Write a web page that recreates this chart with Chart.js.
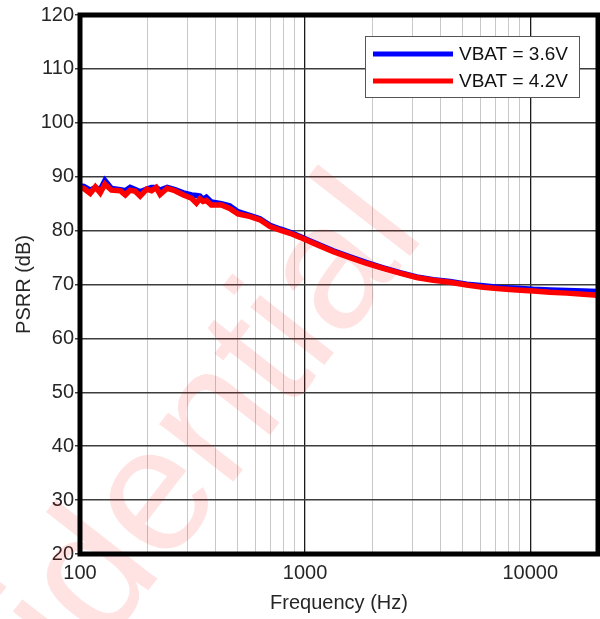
<!DOCTYPE html>
<html>
<head>
<meta charset="utf-8">
<script src="https://cdn.jsdelivr.net/npm/chart.js@4.4.1/dist/chart.umd.min.js"></script>
<style>
html,body{margin:0;padding:0;background:#fff;}
canvas{display:block;}
</style>
</head>
<body>
<canvas id="c" width="600" height="619"></canvas>
<script>
// ---- data ----
const freqs = [100,104,111,117,123,129,138,151,159,167,176,185,198,208,218,227,244,264,288,313,329,341,352,364,383,425,462,503,571,630,698,774,857,950,1029,1127,1334,1582,1877,2224,2638,3130,3711,4401,5221,6186,7337,8706,10316,12246,14520,17208,20000];
const psrrVbat36 = [88.3,88.2,87.5,88.0,87.6,89.3,87.8,87.6,87.4,88.0,87.6,87.2,87.7,88.0,88.0,87.5,88.0,87.6,87.0,86.6,86.5,86.4,85.8,86.2,85.3,85.0,84.6,83.5,82.8,82.2,81.0,80.3,79.7,78.9,78.25,77.55,76.25,75.15,74.05,73.1,72.2,71.4,70.9,70.55,70.05,69.75,69.45,69.3,69.1,69.0,68.9,68.8,68.7];
const psrrVbat42 = [88.0,87.8,86.9,88.1,87.0,88.6,87.5,87.4,86.6,87.5,87.3,86.4,87.7,87.4,88.0,86.7,87.85,87.4,86.6,86.0,85.1,85.9,85.4,85.6,84.75,84.75,84.1,83.1,82.6,82.0,80.75,80.1,79.5,78.75,78.1,77.4,76.1,75.0,73.9,73.0,72.1,71.3,70.8,70.4,69.9,69.5,69.2,69.0,68.8,68.55,68.4,68.2,68.0];
const seriesLabels = ['VBAT = 3.6V', 'VBAT = 4.2V'];
const seriesColors = ['#0000ff', '#ff0000'];
const xLabelValues = [100, 1000, 10000];
const xGridValues = [100,200,300,400,500,600,700,800,900,1000,2000,3000,4000,5000,6000,7000,8000,9000,10000,20000];
const yMin = 20, yMax = 120, yStep = 10;
const xTitle = 'Frequency (Hz)';
const yTitle = 'PSRR (dB)';
const watermarkText = 'Confidential';

const FONT = "'Liberation Sans', Arial, sans-serif";
const TEXT = '#262626';

const watermark = {
  id: 'watermark',
  beforeDatasetsDraw(chart) {
    const ctx = chart.ctx;
    ctx.save();
    ctx.translate(-152, 975);
    ctx.rotate(-52 * Math.PI / 180);
    ctx.font = '178px ' + FONT;
    ctx.fillStyle = 'rgba(255,0,0,0.11)';
    ctx.textBaseline = 'alphabetic';
    ctx.textAlign = 'left';
    ctx.fillText(watermarkText, 0, 0);
    ctx.restore();
  }
};

const frameAndLegend = {
  id: 'frameAndLegend',
  afterDatasetsDraw(chart) {
    const ctx = chart.ctx;
    const a = chart.chartArea;
    ctx.save();
    ctx.strokeStyle = '#000';
    ctx.lineWidth = 5;
    ctx.strokeRect(a.left, a.top, a.right - a.left, a.bottom - a.top);
    const bx = a.right - 233, by = a.top + 21, bw = 214, bh = 61;
    ctx.fillStyle = '#fff';
    ctx.fillRect(bx, by, bw, bh);
    ctx.strokeStyle = '#555';
    ctx.lineWidth = 1;
    ctx.strokeRect(bx + 0.5, by + 0.5, bw, bh);
    ctx.font = '19px ' + FONT;
    ctx.textBaseline = 'middle';
    ctx.textAlign = 'left';
    chart.data.datasets.forEach((ds, i) => {
      const yy = by + 18 + i * 27;
      ctx.strokeStyle = ds.borderColor;
      ctx.lineWidth = 5;
      ctx.beginPath();
      ctx.moveTo(bx + 8, yy);
      ctx.lineTo(bx + 88, yy);
      ctx.stroke();
      ctx.fillStyle = '#111';
      ctx.fillText(ds.label, bx + 94, yy + 1);
    });
    ctx.restore();
  }
};

const yTickVals = [];
for (let v = yMin; v <= yMax; v += yStep) yTickVals.push(v);

new Chart(document.getElementById('c'), {
  type: 'line',
  data: {
    datasets: [psrrVbat36, psrrVbat42].map((vals, i) => ({
      label: seriesLabels[i],
      data: freqs.map((f, j) => ({ x: f, y: vals[j] })),
      borderColor: seriesColors[i],
      backgroundColor: seriesColors[i],
      borderWidth: 5.5,
      pointRadius: 0,
      tension: 0,
      fill: false,
      order: 1 - i
    }))
  },
  options: {
    responsive: false,
    animation: false,
    devicePixelRatio: 1,
    layout: { padding: { top: 15, right: 2, left: 0, bottom: 0 } },
    plugins: { legend: { display: false }, tooltip: { enabled: false } },
    scales: {
      x: {
        type: 'logarithmic',
        min: 100,
        max: 20000,
        afterBuildTicks(scale) { scale.ticks = xGridValues.map(v => ({ value: v })); },
        afterFit(scale) { scale.height = 65; scale.paddingRight = 0; scale.paddingLeft = 0; },
        ticks: {
          autoSkip: false,
          maxRotation: 0,
          padding: 7,
          color: TEXT,
          font: { family: FONT, size: 20 },
          callback: (v) => xLabelValues.includes(v) ? String(v) : ''
        },
        grid: {
          drawTicks: false,
          color: (c) => (c.tick && xLabelValues.includes(c.tick.value)) ? '#1a1a1a' : '#c8c8c8',
          lineWidth: (c) => (c.tick && xLabelValues.includes(c.tick.value)) ? 1.3 : 1
        },
        border: { display: false },
        title: {
          display: true,
          text: xTitle,
          color: TEXT,
          font: { family: FONT, size: 20 },
          padding: { top: 0, bottom: 4 }
        }
      },
      y: {
        type: 'linear',
        min: yMin,
        max: yMax,
        afterBuildTicks(scale) { scale.ticks = yTickVals.map(v => ({ value: v })); },
        afterFit(scale) { scale.width = 80; scale.paddingTop = 0; scale.paddingBottom = 0; },
        ticks: {
          padding: 1,
          color: TEXT,
          font: { family: FONT, size: 20 }
        },
        grid: { color: '#3c3c3c', lineWidth: 1.5, tickLength: 5 },
        border: { display: false },
        title: {
          display: true,
          text: yTitle,
          color: TEXT,
          font: { family: FONT, size: 20 },
          padding: { top: 12, bottom: 0 }
        }
      }
    }
  },
  plugins: [watermark, frameAndLegend]
});
</script>
</body>
</html>
